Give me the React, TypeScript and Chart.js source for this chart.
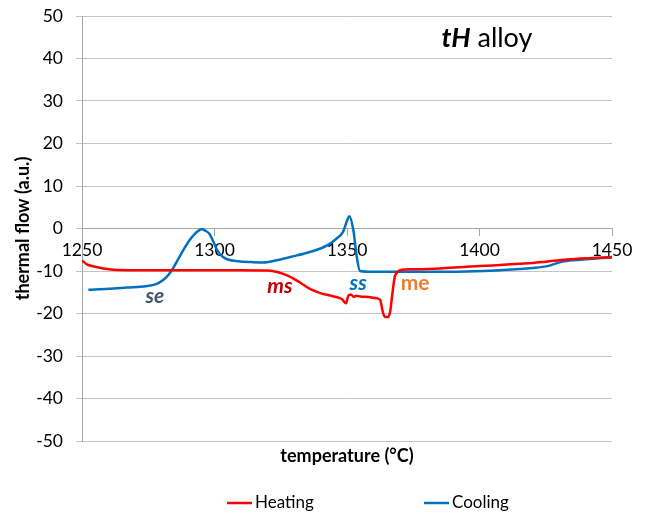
import React, { useEffect, useRef } from "react";
import { Chart, registerables } from "chart.js";

Chart.register(...registerables);

const heatingT = [1250, 1252, 1255, 1258, 1262, 1270, 1290, 1310, 1320, 1324, 1328, 1332, 1336, 1340, 1345, 1348, 1349.6, 1350.5, 1351.5, 1352.5, 1353.5, 1355, 1358, 1361, 1362.5, 1363.5, 1364.3, 1365.6, 1366.3, 1367, 1368, 1369, 1370, 1375, 1385, 1395, 1405, 1415, 1420, 1425, 1433, 1440, 1450];
const heatingFlow = [-7.5, -8.5, -9.0, -9.4, -9.7, -9.8, -9.8, -9.8, -9.9, -10.3, -11.2, -12.6, -14.2, -15.2, -16.0, -16.6, -17.6, -15.8, -15.5, -16.1, -15.8, -16.0, -16.1, -16.4, -16.8, -19.6, -20.8, -20.8, -19.5, -16.0, -11.4, -10.3, -9.8, -9.6, -9.4, -9.0, -8.7, -8.3, -8.1, -7.8, -7.3, -7.0, -6.7];

const coolingT = [1252.4, 1260, 1267, 1274, 1278, 1280.5, 1282.5, 1284.5, 1286.5, 1288.5, 1290.5, 1292.5, 1294, 1295.2, 1296.5, 1298, 1299.5, 1301, 1303, 1305, 1309, 1314, 1318.5, 1324, 1330, 1335, 1340, 1343, 1346, 1348.5, 1350, 1350.9, 1352.4, 1353.7, 1354.9, 1360, 1380, 1395, 1408, 1420, 1426, 1429, 1432, 1439, 1450];
const coolingFlow = [-14.4, -14.2, -13.9, -13.6, -13.1, -12.2, -11.0, -9.2, -7.0, -4.8, -2.8, -1.3, -0.5, -0.2, -0.5, -1.2, -3.0, -5.1, -6.6, -7.3, -7.7, -7.9, -8.0, -7.4, -6.5, -5.7, -4.7, -3.8, -2.4, -0.8, 1.8, 2.9, -0.4, -6.7, -10.0, -10.2, -10.2, -10.1, -9.8, -9.3, -8.8, -8.2, -7.7, -7.3, -6.8];

const xTicks = [1250, 1300, 1350, 1400, 1450];
const yTicks = [-50, -40, -30, -20, -10, 0, 10, 20, 30, 40, 50];

const seriesNames = ["Heating", "Cooling"];
const seriesColors = ["#ff0000", "#0070c0"];

const markLabels = ["se", "ms", "ss", "me"];
const markT = [1277.5, 1324.7, 1354.2, 1375.7];
const markFlow = [-15.9, -13.6, -12.9, -12.9];
const markColors = ["#44546a", "#c00000", "#0070c0", "#ed7d31"];
const markItalic = [true, true, true, false];

const FONT = "Lato, 'Open Sans', sans-serif";

const overlayPlugin = {
  id: "overlay",
  afterDraw(chart: any) {
    const ctx = chart.ctx;
    const xs = chart.scales.x;
    const ys = chart.scales.y;
    const area = chart.chartArea;
    ctx.save();
    ctx.textBaseline = "middle";
    ctx.textAlign = "center";
    markLabels.forEach((t, i) => {
      ctx.font = `${markItalic[i] ? "italic " : ""}bold 21px ${FONT}`;
      ctx.fillStyle = markColors[i];
      ctx.fillText(t, xs.getPixelForValue(markT[i]), ys.getPixelForValue(markFlow[i]));
    });
    ctx.textAlign = "left";
    ctx.fillStyle = "#000";
    ctx.font = `italic bold 27px ${FONT}`;
    const tx = xs.getPixelForValue(1385.7);
    const ty = ys.getPixelForValue(44.7);
    ctx.fillText("tH", tx, ty);
    const w = ctx.measureText("tH").width;
    ctx.font = `27px ${FONT}`;
    ctx.fillText(" alloy", tx + w, ty);
    ctx.textAlign = "center";
    ctx.font = `bold 18px ${FONT}`;
    ctx.fillText("temperature (°C)", (area.left + area.right) / 2, area.bottom + 15);
    ctx.font = `17px ${FONT}`;
    ctx.textAlign = "left";
    const ly = area.bottom + 62;
    const starts = [227, 424];
    chart.data.datasets.forEach((ds: any, i: number) => {
      ctx.strokeStyle = ds.borderColor;
      ctx.lineWidth = 2.5;
      ctx.beginPath();
      ctx.moveTo(starts[i], ly);
      ctx.lineTo(starts[i] + 25, ly);
      ctx.stroke();
      ctx.fillStyle = "#000";
      ctx.fillText(ds.label, starts[i] + 28, ly);
    });
    ctx.restore();
  },
};

export default function App() {
  const ref = useRef<HTMLCanvasElement>(null);
  useEffect(() => {
    const canvas = ref.current!;
    const chart = new Chart(canvas, {
      type: "line",
      data: {
        datasets: [
          {
            label: seriesNames[0],
            data: heatingT.map((t, i) => ({ x: t, y: heatingFlow[i] })),
            borderColor: seriesColors[0],
            backgroundColor: seriesColors[0],
            borderWidth: 2.5,
            pointRadius: 0,
            cubicInterpolationMode: "monotone",
          },
          {
            label: seriesNames[1],
            data: coolingT.map((t, i) => ({ x: t, y: coolingFlow[i] })),
            borderColor: seriesColors[1],
            backgroundColor: seriesColors[1],
            borderWidth: 2.5,
            pointRadius: 0,
            cubicInterpolationMode: "monotone",
          },
        ],
      },
      options: {
        animation: false,
        responsive: false,
        layout: { padding: { left: 0, right: 33, top: 16, bottom: 75 } },
        plugins: { legend: { display: false }, tooltip: { enabled: false } },
        scales: {
          x: {
            type: "linear",
            position: { y: 0 },
            min: 1250,
            max: 1450,
            afterFit: (s: any) => {
              s.height = 0;
            },
            afterBuildTicks: (s: any) => {
              s.ticks = xTicks.map((v) => ({ value: v }));
            },
            ticks: {
              font: { family: FONT, size: 17.5 },
              color: "#000",
              padding: 4,
              maxRotation: 0,
              callback: (v: any) => String(v),
            },
            grid: { drawOnChartArea: false, drawTicks: true, tickLength: 7, color: "#a6a6a6" },
            border: { display: true, color: "#a6a6a6", width: 1 },
          },
          y: {
            type: "linear",
            min: -50,
            max: 50,
            afterFit: (s: any) => {
              s.width = 82;
              s.paddingTop = 0;
              s.paddingBottom = 0;
            },
            afterBuildTicks: (s: any) => {
              s.ticks = yTicks.map((v) => ({ value: v }));
            },
            ticks: {
              font: { family: FONT, size: 17.5 },
              color: "#000",
              padding: 13,
              callback: (v: any) => String(v),
            },
            grid: { color: "#c4c4c4", tickLength: 6 },
            border: { display: true, color: "#a6a6a6", width: 1 },
            title: {
              display: true,
              text: "thermal flow (a.u.)",
              color: "#000",
              font: { family: FONT, size: 18, weight: "bold" },
              padding: { top: 12, bottom: 0 },
            },
          },
        },
      },
      plugins: [overlayPlugin],
    });
    return () => chart.destroy();
  }, []);
  return (
    <div style={{ position: "absolute", left: 0, top: 0, width: 645, height: 516, background: "#fff" }}>
      <canvas ref={ref} width={645} height={516} />
    </div>
  );
}
